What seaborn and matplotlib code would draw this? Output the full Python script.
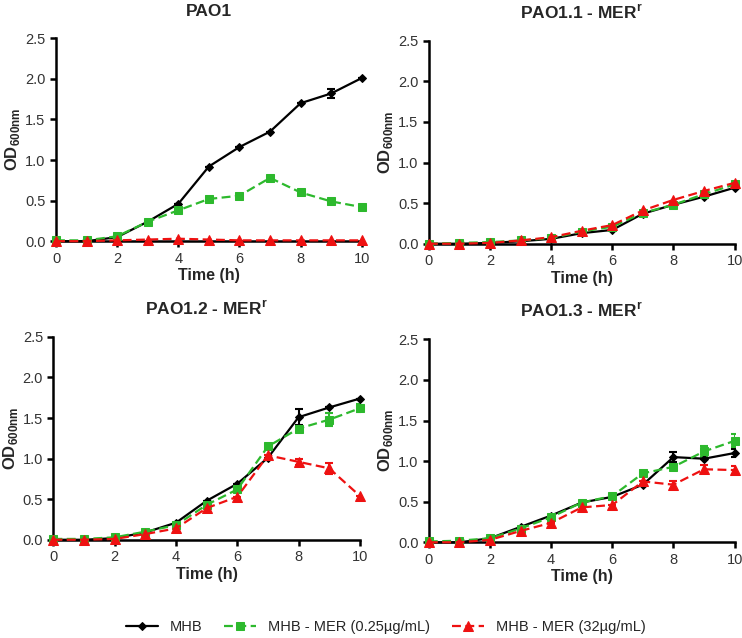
import numpy as np
import pandas as pd
import seaborn as sns
import matplotlib.pyplot as plt

# time points (h)
time = [0, 1, 2, 3, 4, 5, 6, 7, 8, 9, 10]

panel_titles = ["PAO1", r"PAO1.1 - MER$^{\mathbf{r}}$",
                r"PAO1.2 - MER$^{\mathbf{r}}$", r"PAO1.3 - MER$^{\mathbf{r}}$"]
series_names = ["MHB", "MHB - MER (0.25µg/mL)", "MHB - MER (32µg/mL)"]

# OD600 means per panel: MHB, MER 0.25, MER 32
pao1_mhb = [0.0, 0.0, 0.05, 0.24, 0.46, 0.92, 1.16, 1.35, 1.70, 1.82, 2.01]
pao1_low = [0.01, 0.01, 0.06, 0.24, 0.38, 0.52, 0.56, 0.78, 0.60, 0.49, 0.42]
pao1_high = [0.0, 0.0, 0.01, 0.02, 0.03, 0.02, 0.01, 0.01, 0.01, 0.01, 0.01]

p11_mhb = [0.0, 0.0, 0.01, 0.03, 0.06, 0.13, 0.17, 0.37, 0.48, 0.58, 0.69]
p11_low = [0.0, 0.01, 0.02, 0.04, 0.07, 0.15, 0.21, 0.38, 0.48, 0.61, 0.73]
p11_high = [0.0, 0.0, 0.01, 0.04, 0.08, 0.16, 0.23, 0.41, 0.54, 0.65, 0.75]

p12_mhb = [0.0, 0.0, 0.02, 0.09, 0.21, 0.48, 0.69, 1.01, 1.51, 1.63, 1.74]
p12_low = [0.01, 0.01, 0.03, 0.10, 0.18, 0.43, 0.62, 1.15, 1.37, 1.48, 1.62]
p12_high = [0.0, 0.0, 0.01, 0.07, 0.14, 0.39, 0.53, 1.04, 0.96, 0.88, 0.54]

p13_mhb = [0.0, 0.0, 0.05, 0.19, 0.33, 0.49, 0.56, 0.71, 1.05, 1.03, 1.10]
p13_low = [0.01, 0.02, 0.05, 0.17, 0.31, 0.49, 0.57, 0.85, 0.93, 1.12, 1.25]
p13_high = [0.0, 0.0, 0.03, 0.14, 0.24, 0.43, 0.46, 0.75, 0.71, 0.90, 0.89]

# error bars (SD), mostly hidden behind markers
pao1_mhb_err = [0, 0, 0, 0, 0, 0, 0, 0, 0, 0.06, 0]
p12_mhb_err = [0, 0, 0, 0, 0, 0, 0, 0, 0.10, 0, 0]
p12_low_err = [0, 0, 0, 0, 0, 0, 0, 0, 0, 0.08, 0.05]
p12_high_err = [0, 0, 0, 0, 0, 0, 0, 0, 0.04, 0.07, 0]
p13_mhb_err = [0, 0, 0, 0, 0, 0, 0, 0, 0.06, 0, 0.05]
p13_low_err = [0, 0, 0, 0, 0, 0, 0, 0, 0, 0.07, 0.08]
p13_high_err = [0, 0, 0, 0, 0, 0, 0, 0, 0.05, 0.05, 0.05]
zero_err = [0] * 11

panels = [
    (pao1_mhb, pao1_low, pao1_high, pao1_mhb_err, zero_err, zero_err),
    (p11_mhb, p11_low, p11_high, zero_err, zero_err, zero_err),
    (p12_mhb, p12_low, p12_high, p12_mhb_err, p12_low_err, p12_high_err),
    (p13_mhb, p13_low, p13_high, p13_mhb_err, p13_low_err, p13_high_err),
]

colors = {series_names[0]: "black", series_names[1]: "#2db92d", series_names[2]: "#ee1111"}
markers = {series_names[0]: "D", series_names[1]: "s", series_names[2]: "^"}
marker_sizes = {series_names[0]: 4, series_names[1]: 6, series_names[2]: 6.5}
dashes = {series_names[0]: "", series_names[1]: (4, 2), series_names[2]: (4, 2)}

sns.set_theme(style="ticks")
plt.rcParams["font.family"] = ["Liberation Sans", "DejaVu Sans"]
plt.rcParams["mathtext.fontset"] = "custom"
plt.rcParams["mathtext.rm"] = "Liberation Sans"
plt.rcParams["mathtext.bf"] = "Liberation Sans:bold"

fig = plt.figure(figsize=(7.42, 6.38), dpi=100)
rects = [
    [0.0755, 0.622, 0.412, 0.318],
    [0.578, 0.618, 0.412, 0.318],
    [0.072, 0.154, 0.413, 0.318],
    [0.578, 0.150, 0.412, 0.318],
]

for rect, title, data in zip(rects, panel_titles, panels):
    ax = fig.add_axes(rect)
    means, errs = data[:3], data[3:]
    rows = []
    for name, vals in zip(series_names, means):
        for t, v in zip(time, vals):
            rows.append({"time": t, "od": v, "series": name})
    df = pd.DataFrame(rows)
    for name, vals, err in zip(series_names, means, errs):
        if any(e > 0 for e in err):
            ax.errorbar(time, vals, yerr=err, fmt="none", ecolor=colors[name],
                        elinewidth=1.5, capsize=3, capthick=1.5, zorder=3)
    for name in series_names:
        sub = df[df["series"] == name]
        sns.lineplot(data=sub, x="time", y="od", ax=ax, color=colors[name],
                     marker=markers[name], markersize=marker_sizes[name],
                     markeredgecolor=colors[name], linewidth=1.6,
                     dashes=dashes[name], label=name, legend=False, zorder=4,
                     clip_on=False)
    ax.set_xlim(0, 10)
    ax.set_ylim(0, 2.5)
    ax.set_xticks([0, 2, 4, 6, 8, 10])
    ax.set_yticks([0.0, 0.5, 1.0, 1.5, 2.0, 2.5])
    ax.set_yticklabels(["0.0", "0.5", "1.0", "1.5", "2.0", "2.5"])
    ax.tick_params(axis="both", labelsize=10.5, labelcolor="#333333", width=1.8,
                   length=4, direction="out", color="black")
    for side in ["top", "right"]:
        ax.spines[side].set_visible(False)
    for side in ["left", "bottom"]:
        ax.spines[side].set_linewidth(1.8)
        ax.spines[side].set_color("black")
    ax.set_xlabel("Time (h)", fontsize=11.5, fontweight="bold", labelpad=2)
    ax.set_ylabel(r"OD$_{\mathbf{600nm}}$", fontsize=12, fontweight="bold", labelpad=2)
    ax.set_title(title, fontsize=12.5, fontweight="bold", pad=16)

handles, labels = ax.get_legend_handles_labels()
fig.legend(handles, labels, loc="lower center", ncol=3, frameon=False,
           fontsize=10.5, bbox_to_anchor=(0.52, -0.015), handlelength=2.2,
           columnspacing=1.5)

fig.savefig("out.png", dpi=100)
